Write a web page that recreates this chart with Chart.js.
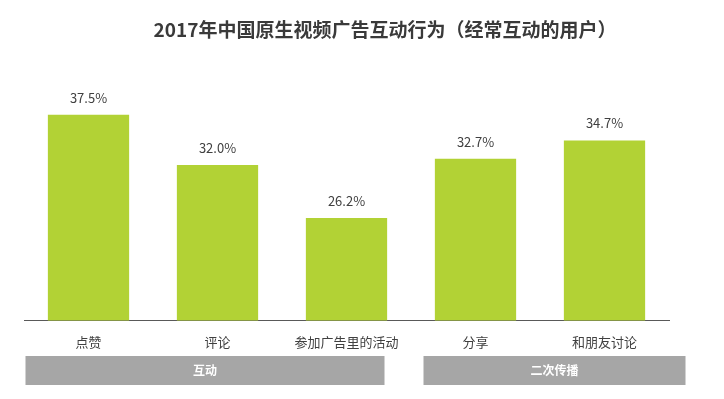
<!DOCTYPE html>
<html>
<head>
<meta charset="utf-8">
<script src="https://cdn.jsdelivr.net/npm/chart.js@4/dist/chart.umd.min.js"></script>
<style>
html,body{margin:0;padding:0;background:#fff;}
#wrap{width:724px;height:399px;position:relative;}
</style>
</head>
<body>
<div id="wrap"><canvas id="c" width="724" height="399"></canvas></div>
<script>
const titleText = '2017年中国原生视频广告互动行为（经常互动的用户）';
const categories = ['点赞', '评论', '参加广告里的活动', '分享', '和朋友讨论'];
const values = [37.5, 32.0, 26.2, 32.7, 34.7];
const groupNames = ['互动', '二次传播'];
const groupRanges = [[0, 2], [3, 4]];

const FONT = '"Noto Sans CJK SC", "Microsoft YaHei", sans-serif';

const decor = {
  id: 'decor',
  afterDatasetsDraw(chart) {
    const ctx = chart.ctx;
    const meta = chart.getDatasetMeta(0);
    ctx.save();
    ctx.fillStyle = '#404040';
    ctx.font = '13px ' + FONT;
    ctx.textAlign = 'center';
    ctx.textBaseline = 'middle';
    meta.data.forEach((bar, i) => {
      ctx.fillText(values[i].toFixed(1) + '%', bar.x, bar.y - 17);
    });
    ctx.restore();
  },
  afterDraw(chart) {
    const ctx = chart.ctx;
    const xs = chart.scales.x;
    ctx.save();
    // title
    ctx.fillStyle = '#3a3a3a';
    ctx.font = 'bold 19px ' + FONT;
    ctx.textAlign = 'center';
    ctx.textBaseline = 'middle';
    ctx.fillText(titleText, 385, 30);
    // group boxes
    const offs = [[-63, 38], [-52, 81]];
    groupRanges.forEach((r, gi) => {
      const l = xs.getPixelForValue(r[0]) + offs[gi][0];
      const rr = xs.getPixelForValue(r[1]) + offs[gi][1];
      ctx.fillStyle = '#a6a6a6';
      ctx.fillRect(l, 356, rr - l, 29);
      ctx.fillStyle = '#ffffff';
      ctx.font = 'bold 12px ' + FONT;
      ctx.fillText(groupNames[gi], (l + rr) / 2, 370.5);
    });
    ctx.restore();
  }
};

new Chart(document.getElementById('c'), {
  type: 'bar',
  data: {
    labels: categories,
    datasets: [{
      data: values,
      backgroundColor: '#b2d235',
      borderWidth: 0,
      barPercentage: 0.63,
      categoryPercentage: 1.0
    }]
  },
  options: {
    responsive: false,
    animation: false,
    devicePixelRatio: 1,
    layout: { padding: { left: 24, right: 55, top: 92, bottom: 35 } },
    plugins: { legend: { display: false }, tooltip: { enabled: false }, title: { display: false } },
    scales: {
      x: {
        grid: { display: false, drawTicks: false },
        border: { display: true, color: '#595959', width: 1 },
        ticks: { color: '#404040', font: { family: FONT, size: 13 }, padding: 14, maxRotation: 0, autoSkip: false }
      },
      y: {
        display: false,
        min: 15,
        max: 40
      }
    }
  },
  plugins: [decor]
});
</script>
</body>
</html>
